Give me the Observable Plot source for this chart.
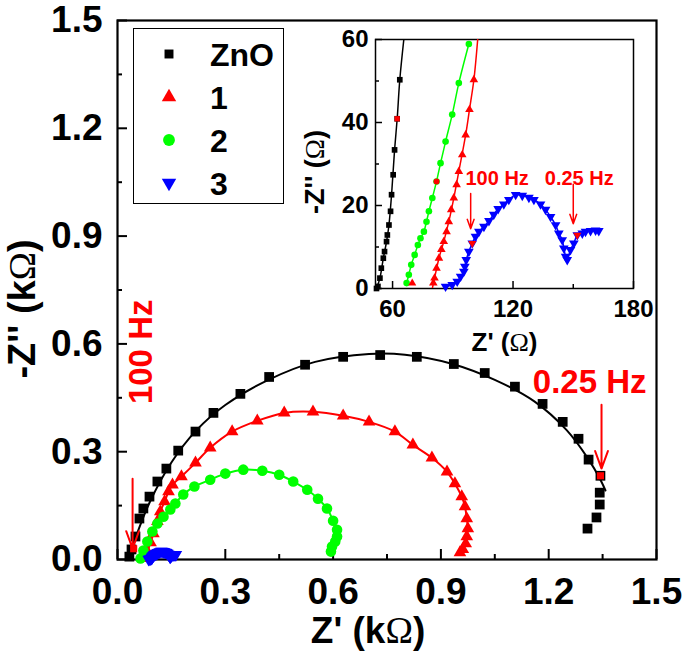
<!DOCTYPE html>
<html><head><meta charset="utf-8">
<script src="https://cdn.jsdelivr.net/npm/d3@7"></script>
<script src="https://cdn.jsdelivr.net/npm/@observablehq/plot@0.6"></script>
<style>
body{margin:0;background:#fff;}
#wrap{position:relative;width:685px;height:654px;font-family:"Liberation Sans",Arial,sans-serif;}
#inset{position:absolute;left:300px;top:21px;}
#legend{position:absolute;left:133px;top:28px;}
svg{overflow:visible;}
</style></head>
<body><div id="wrap"><div id="main"></div><div id="inset"></div><div id="legend"></div></div>
<script>
const FONT = '"Liberation Sans", Arial, sans-serif';
const SERIF = '"Liberation Serif", "Times New Roman", serif';

// ---- series / legend ----
const seriesNames = ["ZnO", "1", "2", "3"];
const seriesColors = ["#000000", "#ff0000", "#00ff00", "#0000ff"];
const seriesSymbols = ["square", "triangle", "circle", "triangle-down"];
const highlightColor = "#ff0000";

// ---- main plot data (kΩ) : [Z', -Z''] ----
const znoMain = [[0.033,0.008],[0.039,0.028],[0.050,0.064],[0.061,0.114],[0.072,0.142],[0.089,0.175],[0.111,0.217],[0.136,0.253],[0.169,0.303],[0.217,0.356],[0.267,0.408],[0.342,0.461],[0.422,0.508],[0.522,0.542],[0.628,0.564],[0.731,0.569],[0.833,0.564],[0.936,0.544],[1.022,0.519],[1.106,0.481],[1.183,0.433],[1.239,0.383],[1.283,0.336],[1.311,0.278],[1.344,0.233],[1.342,0.186],[1.342,0.153],[1.333,0.117],[1.308,0.086]];
const znoFit = [[0.030,0.0],[0.050,0.060],[0.090,0.160],[0.150,0.270],[0.220,0.360],[0.300,0.430],[0.420,0.500],[0.550,0.550],[0.700,0.572],[0.800,0.570],[0.930,0.545],[1.050,0.500],[1.160,0.440],[1.250,0.360],[1.310,0.280],[1.345,0.220],[1.358,0.192]];
const s1Main = [[0.078,0.003],[0.083,0.022],[0.092,0.047],[0.100,0.072],[0.111,0.106],[0.119,0.133],[0.131,0.161],[0.142,0.189],[0.153,0.208],[0.178,0.231],[0.217,0.269],[0.258,0.311],[0.319,0.356],[0.389,0.386],[0.464,0.408],[0.544,0.411],[0.628,0.400],[0.700,0.383],[0.772,0.356],[0.822,0.319],[0.875,0.283],[0.917,0.244],[0.939,0.211],[0.958,0.175],[0.967,0.147],[0.972,0.114],[0.975,0.086],[0.972,0.064],[0.969,0.044],[0.961,0.028],[0.953,0.019]];
const s2Main = [[0.064,0.003],[0.072,0.025],[0.083,0.050],[0.097,0.078],[0.111,0.100],[0.128,0.119],[0.147,0.139],[0.161,0.156],[0.183,0.181],[0.214,0.203],[0.258,0.222],[0.300,0.239],[0.350,0.250],[0.403,0.247],[0.450,0.236],[0.489,0.217],[0.528,0.194],[0.558,0.169],[0.583,0.142],[0.600,0.108],[0.611,0.083],[0.611,0.064],[0.606,0.050],[0.597,0.036],[0.594,0.022]];
const mainHighlights = [[1.344,0.233,"square"],[0.045,0.030,"square"]];

// ---- inset data (Ω) ----
const znoInset = [[52.0,0.0],[52.7,0.5],[53.7,2.5],[54.4,4.9],[55.4,7.3],[56.0,8.9],[57.0,11.3],[57.4,12.9],[58.2,15.3],[59.0,18.6],[59.5,22.6],[60.3,27.4],[61.0,33.4],[62.3,40.9],[63.6,50.3]];
const znoInsetFit = [[52.0,0.0],[53.7,2.5],[55.4,7.3],[57.0,11.3],[58.2,15.3],[59.5,22.6],[61.0,33.4],[62.3,40.9],[63.6,50.3],[65.6,60.0]];
const s1Inset = [[80.3,1.3],[80.9,2.5],[81.9,4.9],[83.1,7.3],[84.3,9.4],[85.5,11.3],[86.9,13.7],[88.0,16.1],[89.2,19.0],[90.5,21.8],[91.9,25.0],[93.0,28.2],[94.7,32.2],[96.4,37.0],[98.3,43.1],[100.5,50.3]];
const s1InsetFit = [[79.8,0.0],[80.9,2.5],[83.1,7.3],[85.5,11.3],[88.0,16.1],[90.5,21.8],[93.0,28.2],[96.4,37.0],[98.3,43.1],[100.5,50.3],[102.4,60.0]];
const s2Inset = [[67.0,1.3],[68.1,3.3],[69.3,5.7],[71.0,8.1],[72.6,10.5],[73.9,12.1],[75.6,13.7],[76.9,16.1],[78.1,18.6],[79.8,21.8],[81.9,25.8],[83.9,30.2],[86.4,35.4],[89.7,41.9],[93.0,49.5],[98.0,58.9]];
const s3Inset = [[86.4,0.5],[89.7,0.9],[92.2,1.7],[93.9,2.9],[95.5,4.1],[96.0,5.3],[96.7,6.9],[98.0,8.9],[99.7,10.9],[101.3,12.5],[103.0,13.7],[105.5,14.9],[108.0,16.3],[110.4,17.8],[112.6,19.2],[115.4,20.3],[117.9,21.4],[121.3,22.6],[124.6,22.4],[127.9,21.9],[130.4,21.4],[133.7,20.3],[136.2,19.0],[138.7,17.3],[141.2,15.3],[142.8,13.3],[144.5,11.7],[145.3,9.7],[146.2,7.7],[147.0,6.9],[148.6,9.3],[150.3,10.9],[152.0,12.9],[154.5,13.3],[156.1,13.7],[158.6,13.9],[161.1,14.0],[162.7,13.9]];
const insetHighlights = [[62.3,40.9,"square"],[81.9,25.8,"circle"],[69.8,1.3,"triangle"],[99.7,10.9,"triangle-down"],[152.0,12.9,"triangle-down"]];

// ---- ticks / labels ----
const mainTicks = [0, 0.3, 0.6, 0.9, 1.2, 1.5];
const mainMinor = [0.15, 0.45, 0.75, 1.05, 1.35];
const insetXTicks = [60, 120, 180];
const insetXMinor = [90, 150];
const insetYTicks = [0, 20, 40, 60];
const insetYMinor = [10, 30, 50];
const mainXTitle = "Z' (kΩ)";
const mainYTitle = "-Z'' (kΩ)";
const insetXTitle = "Z' (Ω)";
const insetYTitle = "-Z'' (Ω)";

// annotations: [x, y, text]
const mainTexts = [[0.067, 0.578, "100 Hz", -90], [1.314, 0.494, "0.25 Hz", 0]];
const mainArrows = [[0.042, 0.225, 0.042, 0.030], [1.347, 0.431, 1.347, 0.253]];
const insetTexts = [[112.1, 26.5, "100 Hz"], [153.0, 26.5, "0.25 Hz"]];
const insetArrows = [[98.9, 22.9, 98.9, 14.4], [150.0, 25.1, 150.0, 15.6]];

const X = d => d[0], Y = d => d[1];
function sym(name){ return name === "triangle-down" ? "triangle" : name; }
function rot(name){ return name === "triangle-down" ? 180 : 0; }

// ---- main plot ----
const main = Plot.plot({
  width: 685, height: 654,
  marginLeft: 117, marginTop: 20, marginRight: 29, marginBottom: 95,
  x: {domain: [0, 1.5]},
  y: {domain: [0, 1.5]},
  style: {fontFamily: FONT, background: "transparent"},
  marks: [
    Plot.axisX({ticks: mainMinor, tickSize: -5, tickFormat: () => "", label: null, strokeWidth: 2}),
    Plot.axisY({ticks: mainMinor, tickSize: -5, tickFormat: () => "", label: null, strokeWidth: 2}),
    Plot.axisX({ticks: mainTicks, tickSize: -10, tickPadding: 28, tickFormat: d3.format(".1f"), label: null, fontSize: 37, fontWeight: "bold", fill: "#000", strokeWidth: 2}),
    Plot.axisY({ticks: mainTicks, tickSize: -10, tickPadding: 25, tickFormat: d3.format(".1f"), label: null, fontSize: 37, fontWeight: "bold", fill: "#000", strokeWidth: 2}),
    Plot.frame({stroke: "#000", strokeWidth: 2.2}),
    Plot.line(znoFit, {x: X, y: Y, stroke: seriesColors[0], strokeWidth: 2, curve: "catmull-rom"}),
    Plot.dot(znoMain, {x: X, y: Y, symbol: sym(seriesSymbols[0]), r: 5.5, fill: seriesColors[0], stroke: "none"}),
    Plot.line(s1Main, {x: X, y: Y, stroke: seriesColors[1], strokeWidth: 2, curve: "catmull-rom"}),
    Plot.dot(s1Main, {x: X, y: Y, symbol: sym(seriesSymbols[1]), r: 4.7, fill: seriesColors[1], stroke: "none"}),
    Plot.line(s2Main, {x: X, y: Y, stroke: seriesColors[2], strokeWidth: 2, curve: "catmull-rom"}),
    Plot.dot(s2Main, {x: X, y: Y, symbol: sym(seriesSymbols[2]), r: 5.3, fill: seriesColors[2], stroke: "none"}),
    Plot.line(s3Inset, {x: d => d[0] / 1000, y: d => d[1] / 1000, stroke: seriesColors[3], strokeWidth: 2, curve: "catmull-rom"}),
    Plot.dot(s3Inset, {x: d => d[0] / 1000, y: d => d[1] / 1000, symbol: "triangle", rotate: 180, r: 4.6, fill: seriesColors[3], stroke: "none"}),
    Plot.dot(mainHighlights, {x: X, y: Y, symbol: d => sym(d[2]), r: 4, fill: highlightColor, stroke: "none"}),
    Plot.arrow(mainArrows, {x1: d => d[0], y1: d => d[1], x2: d => d[2], y2: d => d[3], stroke: highlightColor, strokeWidth: 2, headLength: 14, headAngle: 40}),
    Plot.text(mainTexts, {x: X, y: Y, text: d => d[2], rotate: d => d[3], fill: highlightColor, fontSize: 33, fontWeight: "bold"}),
    Plot.text([mainXTitle], {frameAnchor: "bottom", lineAnchor: "middle", textAnchor: "middle", dx: -19, dy: 72, text: d => d, fontSize: 37, fontWeight: "bold", fill: "#000"}),
    Plot.text([mainYTitle], {frameAnchor: "left", lineAnchor: "middle", textAnchor: "middle", dx: -95, dy: 19, rotate: -90, text: d => d, fontSize: 38, fontWeight: "bold", fill: "#000"})
  ]
});
document.getElementById("main").appendChild(main);

// ---- inset plot ----
const inset = Plot.plot({
  width: 370, height: 340,
  marginLeft: 75, marginTop: 18, marginRight: 37, marginBottom: 73,
  x: {domain: [51.5, 180]},
  y: {domain: [0, 60]},
  style: {fontFamily: FONT, background: "transparent"},
  marks: [
    Plot.axisX({ticks: insetXMinor, tickSize: -4, tickFormat: () => "", label: null, strokeWidth: 1.5}),
    Plot.axisY({ticks: insetYMinor, tickSize: -4, tickFormat: () => "", label: null, strokeWidth: 1.5}),
    Plot.axisX({ticks: insetXTicks, tickSize: -7, tickPadding: 18, label: null, fontSize: 24, fontWeight: "bold", fill: "#000", strokeWidth: 1.5}),
    Plot.axisY({ticks: insetYTicks, tickSize: -7, tickPadding: 14, label: null, fontSize: 24, fontWeight: "bold", fill: "#000", strokeWidth: 1.5}),
    Plot.frame({stroke: "#000", strokeWidth: 1.5}),
    Plot.line(znoInsetFit, {x: X, y: Y, stroke: seriesColors[0], strokeWidth: 1.5, curve: "catmull-rom", clip: true}),
    Plot.dot(znoInset, {x: X, y: Y, symbol: "square", r: 3.2, fill: seriesColors[0], stroke: "none"}),
    Plot.line(s2Inset, {x: X, y: Y, stroke: seriesColors[2], strokeWidth: 1.5, curve: "catmull-rom", clip: true}),
    Plot.dot(s2Inset, {x: X, y: Y, symbol: "circle", r: 3.3, fill: seriesColors[2], stroke: "none"}),
    Plot.line(s1InsetFit, {x: X, y: Y, stroke: seriesColors[1], strokeWidth: 1.5, curve: "catmull-rom", clip: true}),
    Plot.dot(s1Inset, {x: X, y: Y, symbol: "triangle", r: 3.2, fill: seriesColors[1], stroke: "none"}),
    Plot.line(s3Inset, {x: X, y: Y, stroke: seriesColors[3], strokeWidth: 1.5, curve: "catmull-rom", clip: true}),
    Plot.dot(s3Inset, {x: X, y: Y, symbol: "triangle", rotate: 180, r: 3.6, fill: seriesColors[3], stroke: "none"}),
    Plot.dot(insetHighlights, {x: X, y: Y, symbol: d => sym(d[2]), rotate: d => rot(d[2]), r: 3, fill: highlightColor, stroke: "none"}),
    Plot.arrow(insetArrows, {x1: d => d[0], y1: d => d[1], x2: d => d[2], y2: d => d[3], stroke: highlightColor, strokeWidth: 1.5, headLength: 10, headAngle: 40}),
    Plot.text(insetTexts, {x: X, y: Y, text: d => d[2], fill: highlightColor, fontSize: 20, fontWeight: "bold"}),
    Plot.text([insetXTitle], {frameAnchor: "bottom", lineAnchor: "middle", textAnchor: "middle", dx: 0, dy: 54, text: d => d, fontSize: 26, fontWeight: "bold", fill: "#000"}),
    Plot.text([insetYTitle], {frameAnchor: "left", lineAnchor: "middle", textAnchor: "middle", dx: -60, dy: 8, rotate: -90, text: d => d, fontSize: 27, fontWeight: "bold", fill: "#000"})
  ]
});
document.getElementById("inset").appendChild(inset);

// ---- serif Omega ----
const NS = "http://www.w3.org/2000/svg";
function serifOmega(svg){
  svg.querySelectorAll("text").forEach(t => {
    if (t.children.length === 0 && t.textContent.includes("Ω")) {
      const parts = t.textContent.split("Ω");
      t.textContent = "";
      parts.forEach((p, i) => {
        if (i > 0) {
          const s = document.createElementNS(NS, "tspan");
          s.setAttribute("font-family", SERIF);
          s.setAttribute("font-weight", "normal");
          s.textContent = "Ω";
          t.appendChild(s);
        }
        if (p) {
          const s = document.createElementNS(NS, "tspan");
          s.textContent = p;
          t.appendChild(s);
        }
      });
    }
  });
}
serifOmega(main); serifOmega(inset);

// ---- legend (drawn with d3) ----
const lg = d3.select("#legend").append("svg").attr("width", 152).attr("height", 177);
lg.append("rect").attr("x", 0.5).attr("y", 0.5).attr("width", 150).attr("height", 175).attr("fill", "white").attr("stroke", "#000").attr("stroke-width", 1);
const symMap = {square: d3.symbolSquare, triangle: d3.symbolTriangle, circle: d3.symbolCircle, "triangle-down": d3.symbolTriangle};
const symSize = {square: 80, triangle: 90, circle: 110, "triangle-down": 90};
seriesNames.forEach((name, i) => {
  const cy = 26 + i * 43;
  lg.append("path")
    .attr("d", d3.symbol(symMap[seriesSymbols[i]], symSize[seriesSymbols[i]])())
    .attr("transform", `translate(36,${cy}) rotate(${rot(seriesSymbols[i])})`)
    .attr("fill", seriesColors[i]);
  lg.append("text").attr("x", 77).attr("y", cy).attr("dy", "0.36em")
    .attr("font-family", FONT).attr("font-weight", "bold").attr("font-size", 32)
    .text(name);
});
</script>
</body></html>
